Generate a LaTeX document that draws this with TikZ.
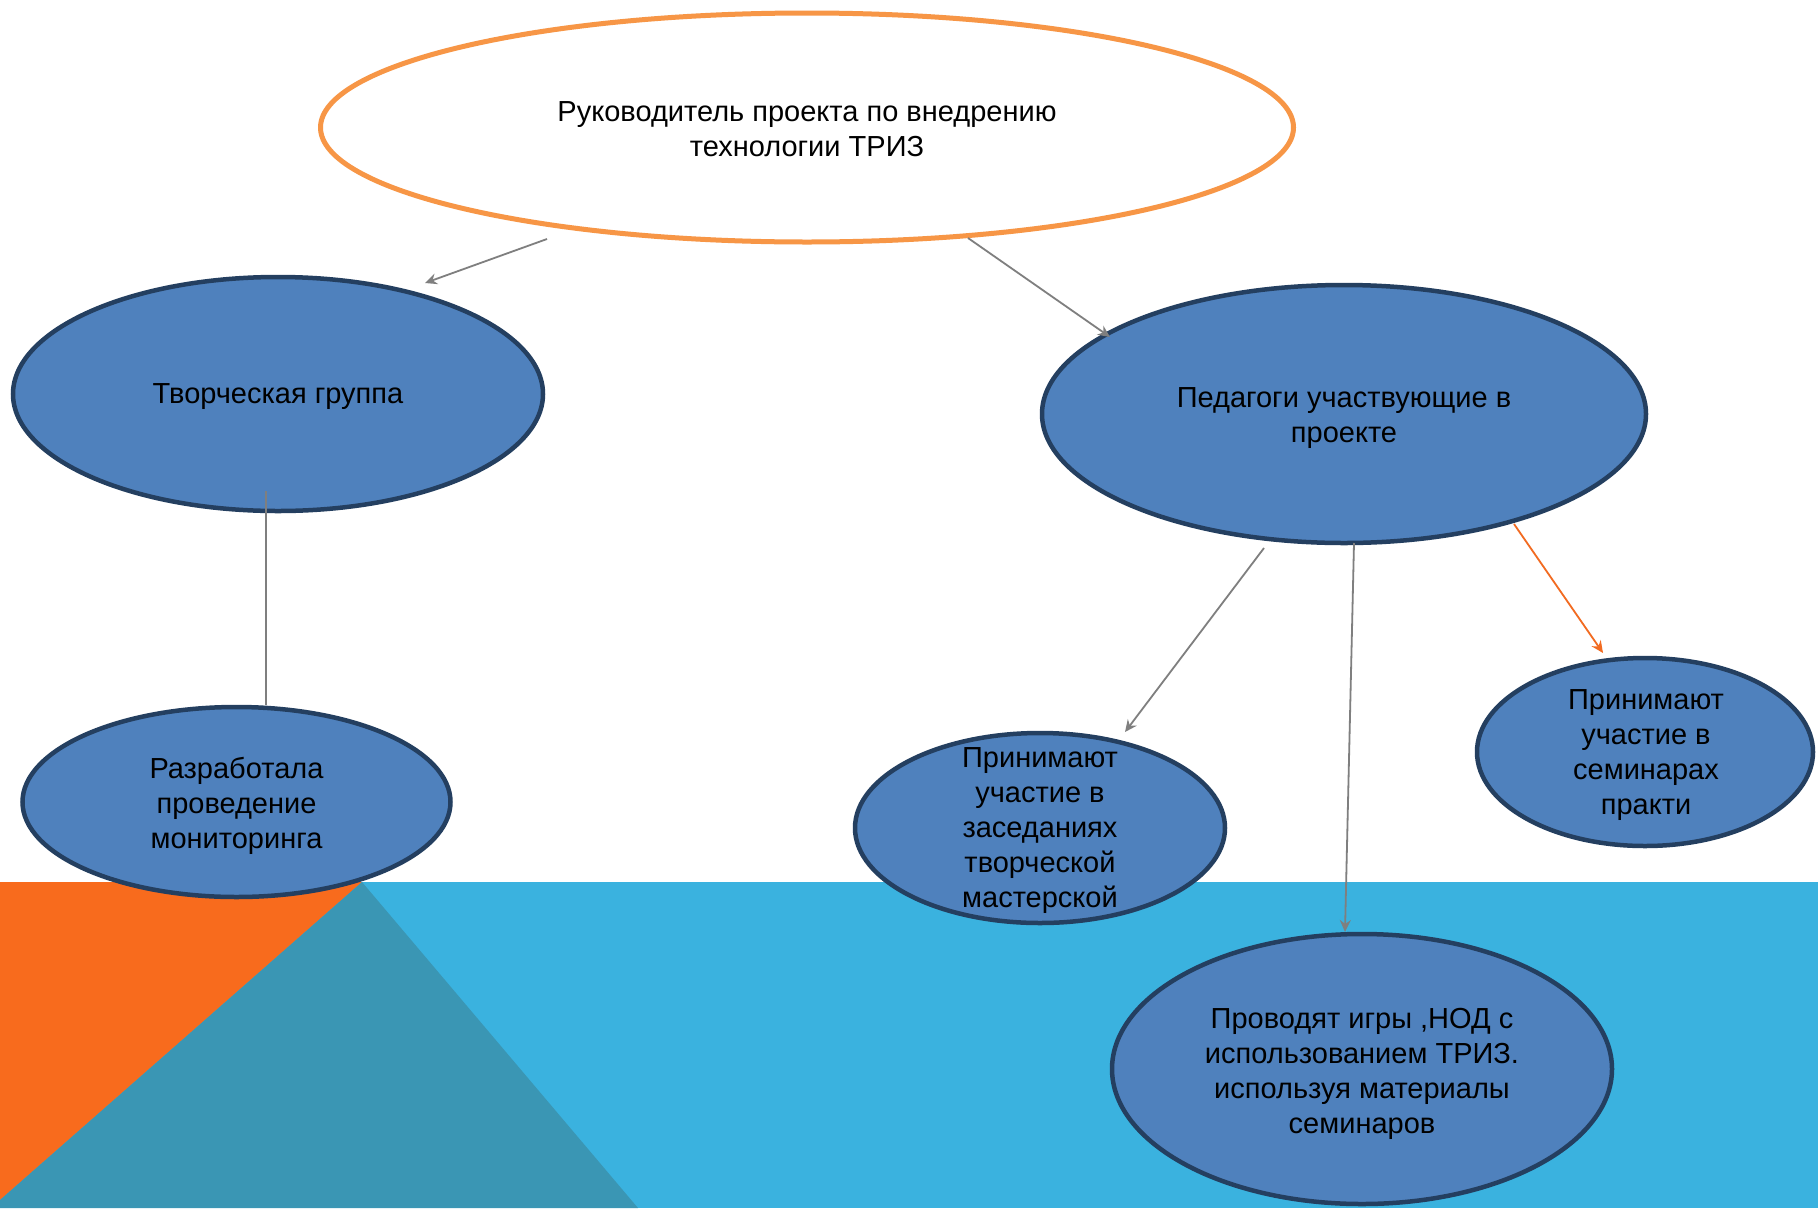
\documentclass[tikz,border=0pt]{standalone}
\usepackage{fontspec}
\setmainfont{Liberation Sans}
\usetikzlibrary{shapes.geometric,arrows.meta}
\definecolor{ellfill}{HTML}{4F81BD}
\definecolor{ellborder}{HTML}{243F60}
\definecolor{topborder}{HTML}{F79646}
\definecolor{bandblue}{HTML}{3AB2DF}
\definecolor{bandorange}{HTML}{F86B1D}
\definecolor{bandteal}{HTML}{3A96B4}
\definecolor{conngray}{HTML}{7F7F7F}
\definecolor{connorange}{HTML}{F26B21}
\begin{document}
\begin{tikzpicture}[x=1pt,y=-1pt,
  blob/.style={ellipse, draw=ellborder, fill=ellfill, line width=4.5pt, inner sep=0pt},
  txt/.style={align=center, font=\fontsize{29}{35}\selectfont, text=black, inner sep=0pt},
  conn/.style={draw=conngray, line width=1.8pt, -{Stealth[length=12pt,width=11pt,inset=4pt]}},
  plain/.style={draw=conngray, line width=1.8pt}
]
\useasboundingbox[fill=white] (0,0) rectangle (1818,1208);
% background
\fill[bandblue] (0,882) rectangle (1818,1208);
\fill[bandorange] (0,882) -- (362,882) -- (0,1200) -- cycle;
\fill[bandteal] (362,882) -- (638,1208) -- (0,1208) -- (0,1200) -- cycle;
% ellipses
\node[blob, draw=topborder, fill=white, line width=5pt, minimum width=973pt, minimum height=229pt] (top) at (807,127.5) {};
\node[txt] (topt) at (807,129) {Руководитель проекта по внедрению\\технологии ТРИЗ};
\node[blob, minimum width=530pt, minimum height=234pt] (tg) at (278,394) {};
\node[txt] (tgt) at (278,397) {Творческая группа};
\node[blob, minimum width=604pt, minimum height=258pt] (ped) at (1344,414) {};
\node[txt] (pedt) at (1344,418) {Педагоги участвующие в\\проекте};
\node[blob, minimum width=428pt, minimum height=190pt] (razr) at (236.5,802) {};
\node[txt] (razrt) at (236.5,805.5) {Разработала\\проведение\\мониторинга};
\node[blob, minimum width=370pt, minimum height=190pt] (zased) at (1040,828) {};
\node[txt] (zasedt) at (1040,831) {Принимают\\участие в\\заседаниях\\творческой\\мастерской};
\node[blob, minimum width=336pt, minimum height=188pt] (sem) at (1645,752) {};
\node[txt] (semt) at (1646,755) {Принимают\\участие в\\семинарах\\практи};
\node[blob, minimum width=500pt, minimum height=270pt] (prov) at (1362,1069) {};
\node[txt] (provt) at (1362,1074) {Проводят игры ,НОД с\\использованием ТРИЗ.\\используя материалы\\семинаров};
% connectors
\draw[conn] ([shift={(-260,111.5)}]top.center) -- ([shift={(147,-111)}]tg.center);
\draw[conn] ([shift={(161,110.5)}]top.center) -- ([shift={(-234,-77)}]ped.center);
\coordinate (l3) at ([shift={(-12,-22)}]tg.south);
\draw[plain] (l3) -- (l3 |- razr.north);
\draw[conn] ([shift={(-80,134)}]ped.center) -- ([shift={(85,-96)}]zased.center);
\draw[conn] ([shift={(10,129)}]ped.center) -- ([shift={(-17,-137)}]prov.center);
\draw[conn, draw=connorange] ([shift={(170,110)}]ped.center) -- ([shift={(-42,-99)}]sem.center);
\end{tikzpicture}
\end{document}
